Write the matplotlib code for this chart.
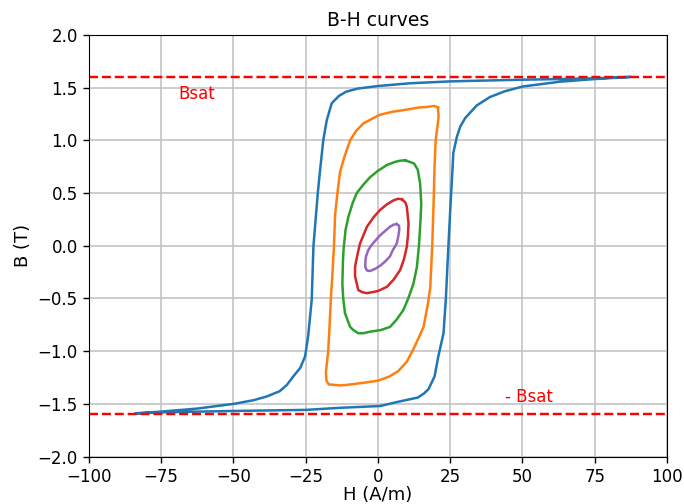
import numpy as np
import matplotlib.pyplot as plt

# Saturation flux density (T)
Bsat = 1.6

# Major loop: descending branch, then ascending branch back to the tip
H_major = [87, 75, 63, 50, 37, 25, 11, 0, -7, -11, -13.5, -16, -17.7, -18.9, -20, -20.8,
           -22.3, -22.9, -24.1, -25.2, -26.9, -29.3, -31.5, -34, -38.5, -43, -50, -62.7, -75, -84,
           -75, -50, -25, -13, 0.8, 7, 13.8, 16, 17.5, 19.6, 20.9, 22.7, 23.5, 24.4, 25.2,
           25.6, 26.1, 27.3, 28.5, 30.2, 34.2, 38.8, 44, 50.2, 63, 75, 87]
B_major = [1.600, 1.587, 1.580, 1.574, 1.566, 1.558, 1.540, 1.514, 1.49, 1.46, 1.42, 1.35, 1.19, 1.00,
           0.72, 0.50, 0.0, -0.51, -0.85, -1.05, -1.16, -1.24, -1.32, -1.38, -1.43, -1.465, -1.50,
           -1.545, -1.573, -1.590,
           -1.580, -1.567, -1.557, -1.537, -1.52, -1.48, -1.44, -1.40, -1.36, -1.24, -1.05, -0.83,
           -0.51, 0.0, 0.43, 0.62, 0.88, 1.03, 1.13, 1.21, 1.33, 1.41, 1.465, 1.51, 1.555, 1.580, 1.600]

H_loop2 = [20.8, 19.5, 16.9, 14, 10, 5, 0.5, -5, -7.5, -9.6, -11.5, -13.1, -14, -14.8, -15.2, -15.8,
           -16.3, -16.8, -17.2, -18.0, -17.8, -17.0, -13, -10.8, -5, 0, 4, 7, 10, 12.3, 14, 15.8,
           17.3, 18.1, 18.8, 19.3, 19.6, 20.0, 20.6, 21.0, 20.8]
B_loop2 = [1.31, 1.325, 1.315, 1.31, 1.29, 1.27, 1.24, 1.16, 1.09, 1.00, 0.85, 0.70, 0.50, 0.30, 0.0,
           -0.30, -0.51, -0.80, -1.00, -1.20, -1.28, -1.315, -1.325, -1.32, -1.30, -1.28, -1.24,
           -1.19, -1.10, -0.98, -0.88, -0.77, -0.55, -0.40, 0.0, 0.43, 0.75, 1.0, 1.13, 1.22, 1.31]

H_loop3 = [9.4, 12.5, 13.8, 14.6, 15.0, 14.8, 14.2, 13.5, 12.3, 10.5, 8.8, 6.5, 4.2, 1, -2.7, -5,
           -6.8, -8.5, -9.6, -11.4, -12.0, -12.3, -12.1, -11.9, -11.2, -10.2, -8.8, -7.3, -5, -2.7,
           0, 3.1, 6, 7.7, 9.4]
B_loop3 = [0.81, 0.78, 0.72, 0.59, 0.40, 0.27, 0.0, -0.20, -0.36, -0.50, -0.61, -0.70, -0.77, -0.80,
           -0.815, -0.83, -0.83, -0.80, -0.77, -0.64, -0.50, -0.36, -0.15, -0.04, 0.15, 0.275, 0.40,
           0.50, 0.58, 0.65, 0.71, 0.765, 0.795, 0.806, 0.81]

H_loop4 = [8.3, 9.5, 10.0, 10.6, 10.4, 10.0, 9.0, 7.7, 5.5, 3.1, 0, -3.8, -5.5, -6.8, -7.9, -7.9,
           -7.5, -6.8, -6.2, -5, -3.8, -1.5, 0.8, 3, 5.4, 7, 8.3]
B_loop4 = [0.44, 0.41, 0.37, 0.21, 0.10, -0.01, -0.13, -0.23, -0.32, -0.39, -0.43, -0.45, -0.44,
           -0.42, -0.29, -0.20, -0.14, -0.05, 0.02, 0.10, 0.18, 0.27, 0.34, 0.39, 0.43, 0.445, 0.44]

H_loop5 = [6.5, 7.3, 7.4, 7.0, 6.5, 5, 4.2, 2.5, 0.8, -1, -2.7, -3.8, -4.4, -4.3, -4.1, -3.3,
           -2.1, -0.5, 0.8, 2.5, 4.2, 5.5, 6.5]
B_loop5 = [0.205, 0.19, 0.15, 0.08, 0.02, -0.05, -0.10, -0.15, -0.19, -0.22, -0.24, -0.235, -0.20,
           -0.14, -0.10, -0.04, 0.01, 0.06, 0.10, 0.14, 0.18, 0.20, 0.205]

loops = [(H_major, B_major), (H_loop2, B_loop2), (H_loop3, B_loop3),
         (H_loop4, B_loop4), (H_loop5, B_loop5)]

fig = plt.figure(figsize=(6.84, 5.04), dpi=100)
ax = fig.add_axes([0.130, 0.094, 0.845, 0.837])

for H, B in loops:
    ax.plot(H, B, linewidth=1.8)

ax.axhline(Bsat, color='red', linestyle='--', linewidth=1.75)
ax.axhline(-Bsat, color='red', linestyle='--', linewidth=1.75)
ax.text(-69, 1.39, 'Bsat', color='red', fontsize=12)
ax.text(44, -1.48, '- Bsat', color='red', fontsize=12)

ax.set_xlim(-100, 100)
ax.set_ylim(-2, 2)
ax.set_xticks(np.arange(-100, 101, 25))
ax.set_yticks(np.arange(-2, 2.01, 0.5))
ax.tick_params(labelsize=12, length=4.5, width=1)
ax.grid(True, color='#c0c0c0', linewidth=1.1)
ax.set_axisbelow(True)
ax.set_title('B-H curves', fontsize=13.5)
ax.set_xlabel('H (A/m)', fontsize=13, labelpad=0.5)
ax.set_ylabel('B (T)', fontsize=13)

fig.savefig('out.png', dpi=100)
